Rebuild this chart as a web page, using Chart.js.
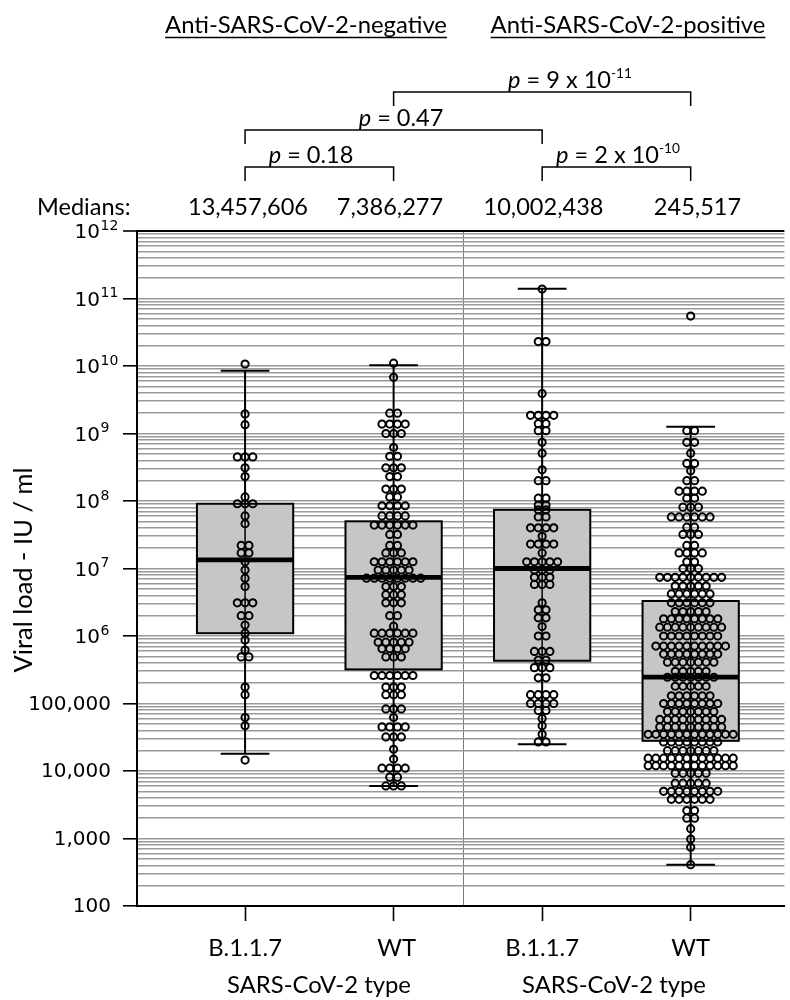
<!DOCTYPE html>
<html><head><meta charset="utf-8">
<script src="https://cdn.jsdelivr.net/npm/chart.js@4.4.1/dist/chart.umd.min.js"></script>
<style>html,body{margin:0;padding:0;background:#fff}#wrap{width:790px;height:1000px;position:relative}</style>
</head><body><div id="wrap"><canvas id="c"></canvas></div>
<script>
// ---------------- DATA ----------------
const categories = ['B.1.1.7', 'WT', 'B.1.1.7', 'WT'];
const groupTitles = ['Anti-SARS-CoV-2-negative', 'Anti-SARS-CoV-2-positive'];
const xAxisTitle = 'SARS-CoV-2 type';
const yAxisTitle = 'Viral load - IU / ml';
const medianHeader = 'Medians:';
const medianLabels = ['13,457,606', '7,386,277', '10,002,438', '245,517'];
const medians = [13457606, 7386277, 10002438, 245517];
const q1 = [1.1e6, 3.2e5, 4.3e5, 2.8e4];
const q3 = [9.1e7, 5.0e7, 7.4e7, 3.3e6];
const whiskerLow = [1.8e4, 6.0e3, 2.5e4, 4.1e2];
const whiskerHigh = [8.5e9, 1.03e10, 1.4e11, 1.26e9];
const pPairs = [[2, 4], [1, 3], [1, 2], [3, 4]];
const pLabels = ['9 x 10', '0.47', '0.18', '2 x 10'];
const pExponents = ['-11', '', '', '-10'];
const yTickValues = [1e2, 1e3, 1e4, 1e5, 1e6, 1e7, 1e8, 1e9, 1e10, 1e11, 1e12];
const yTickLabels = ['100', '1,000', '10,000', '100,000', '10^6', '10^7', '10^8', '10^9', '10^10', '10^11', '10^12'];

const b117NegValues = [1.07e10, 1.95e9, 1.35e9, 4.5e8, 4.5e8, 4.5e8, 3.1e8, 2.3e8, 1.15e8,
  9.1e7, 9.1e7, 9.1e7, 6.0e7, 4.6e7, 2.2e7, 2.2e7, 1.7e7, 1.7e7, 1.26e7, 9.5e6, 7.2e6, 5.4e6,
  3.1e6, 3.1e6, 3.1e6, 2.0e6, 2.0e6, 1.45e6, 1.1e6, 8.7e5, 6.2e5, 4.9e5, 4.9e5, 1.75e5, 1.35e5,
  6.2e4, 4.7e4, 1.45e4];

const wtNegValues = [1.1e10, 6.8e9, 2.0e9, 2.0e9, 1.38e9, 1.38e9, 1.38e9, 1.38e9, 1.0e9, 1.0e9, 1.0e9,
  6.2e8, 4.6e8, 4.6e8, 3.1e8, 3.1e8, 3.1e8, 2.3e8, 2.3e8, 1.5e8, 1.5e8, 1.5e8, 1.15e8, 1.15e8,
  8.5e7, 8.5e7, 8.5e7, 8.5e7, 6.0e7, 6.0e7, 6.0e7, 6.0e7, 4.4e7, 4.4e7, 4.4e7, 4.4e7, 4.4e7, 4.4e7,
  3.2e7, 3.2e7, 2.2e7, 2.2e7, 1.7e7, 1.7e7, 1.7e7, 1.26e7, 1.26e7, 1.26e7, 1.26e7, 1.26e7, 1.26e7,
  9.5e6, 9.5e6, 9.5e6, 9.5e6, 9.5e6, 7.2e6, 7.2e6, 7.2e6, 7.2e6, 7.2e6, 7.2e6, 7.2e6, 7.2e6,
  5.4e6, 5.4e6, 5.4e6, 4.1e6, 4.1e6, 4.1e6, 3.1e6, 3.1e6, 3.1e6, 2.0e6, 2.0e6, 1.4e6,
  1.1e6, 1.1e6, 1.1e6, 1.1e6, 1.1e6, 1.1e6, 8.1e5, 8.1e5, 8.1e5, 8.1e5, 8.1e5, 6.5e5, 6.5e5, 6.5e5, 6.5e5,
  4.9e5, 4.9e5, 4.9e5, 2.6e5, 2.6e5, 2.6e5, 2.6e5, 2.6e5, 2.6e5, 1.75e5, 1.75e5, 1.75e5,
  1.35e5, 1.35e5, 1.35e5, 8.3e4, 8.3e4, 8.3e4, 6.2e4, 4.5e4, 4.5e4, 4.5e4, 4.5e4, 3.2e4, 3.2e4, 3.2e4,
  2.1e4, 1.5e4, 1.1e4, 1.1e4, 1.1e4, 1.1e4, 8.1e3, 8.1e3, 6.0e3, 6.0e3, 6.0e3];

const b117PosValues = [1.38e11, 2.3e10, 2.3e10, 3.9e9, 1.86e9, 1.86e9, 1.86e9, 1.86e9, 1.4e9, 1.4e9,
  1.1e9, 1.1e9, 7.4e8, 5.1e8, 2.9e8, 2.0e8, 2.0e8, 1.1e8, 1.1e8, 8.7e7, 8.7e7, 7.4e7, 7.4e7,
  5.8e7, 5.8e7, 4.0e7, 4.0e7, 4.0e7, 4.0e7, 3.0e7, 2.3e7, 2.3e7, 2.3e7, 2.3e7, 1.7e7,
  1.26e7, 1.26e7, 1.26e7, 1.26e7, 1.26e7, 9.5e6, 9.5e6, 9.5e6, 7.4e6, 7.4e6, 7.4e6, 5.8e6, 5.8e6, 5.8e6,
  3.1e6, 2.45e6, 2.45e6, 1.86e6, 1.86e6, 1.38e6, 1.0e6, 1.0e6, 5.9e5, 5.9e5, 5.9e5, 4.4e5, 4.4e5,
  3.4e5, 3.4e5, 3.4e5, 2.4e5, 2.4e5, 1.35e5, 1.35e5, 1.35e5, 1.35e5, 1.0e5, 1.0e5, 1.0e5, 1.0e5,
  7.9e4, 7.9e4, 6.0e4, 4.7e4, 3.5e4, 2.7e4, 2.7e4];

const wtPosValues = [5.5e10, 1.1e9, 1.1e9, 7.4e8, 7.4e8, 5.1e8, 3.6e8, 3.6e8, 2.8e8, 2.0e8, 2.0e8,
  1.4e8, 1.4e8, 1.4e8, 1.4e8, 1.1e8, 1.1e8, 8.1e7, 8.1e7, 8.1e7,
  5.8e7, 5.8e7, 5.8e7, 5.8e7, 5.8e7, 5.8e7, 4.1e7, 4.1e7, 3.2e7, 3.2e7, 3.2e7, 2.2e7, 2.2e7,
  1.7e7, 1.7e7, 1.7e7, 1.7e7, 1.26e7, 1.26e7, 1.0e7, 1.0e7, 1.0e7,
  7.4e6, 7.4e6, 7.4e6, 7.4e6, 7.4e6, 7.4e6, 7.4e6, 7.4e6, 7.4e6,
  5.5e6, 5.5e6, 5.5e6, 5.5e6, 5.5e6, 4.2e6, 4.2e6, 4.2e6, 4.2e6, 4.2e6, 4.2e6,
  3.1e6, 3.1e6, 3.1e6, 3.1e6, 3.1e6, 3.1e6, 2.3e6, 2.3e6, 2.3e6, 2.3e6, 2.3e6,
  1.8e6, 1.8e6, 1.8e6, 1.8e6, 1.8e6, 1.8e6, 1.8e6, 1.8e6,
  1.35e6, 1.35e6, 1.35e6, 1.35e6, 1.35e6, 1.35e6, 1.35e6, 1.35e6, 1.35e6,
  1.0e6, 1.0e6, 1.0e6, 1.0e6, 1.0e6, 1.0e6, 1.0e6, 1.0e6,
  7.1e5, 7.1e5, 7.1e5, 7.1e5, 7.1e5, 7.1e5, 7.1e5, 7.1e5, 7.1e5, 7.1e5,
  5.4e5, 5.4e5, 5.4e5, 5.4e5, 5.4e5, 5.4e5, 5.4e5, 5.4e5,
  4.1e5, 4.1e5, 4.1e5, 4.1e5, 4.1e5, 4.1e5, 4.1e5, 3.0e5, 3.0e5, 3.0e5, 3.0e5, 3.0e5,
  2.45e5, 2.45e5, 2.45e5, 2.45e5, 2.45e5, 2.45e5, 2.45e5, 1.8e5, 1.8e5, 1.8e5, 1.8e5, 1.8e5,
  1.3e5, 1.3e5, 1.3e5, 1.3e5, 1.3e5, 1.3e5, 1.0e5, 1.0e5, 1.0e5, 1.0e5, 1.0e5, 1.0e5, 1.0e5, 1.0e5,
  7.6e4, 7.6e4, 7.6e4, 7.6e4, 7.6e4, 7.6e4, 7.6e4,
  5.8e4, 5.8e4, 5.8e4, 5.8e4, 5.8e4, 5.8e4, 5.8e4, 5.8e4, 5.8e4,
  4.5e4, 4.5e4, 4.5e4, 4.5e4, 4.5e4, 4.5e4, 4.5e4, 4.5e4, 4.5e4,
  3.5e4, 3.5e4, 3.5e4, 3.5e4, 3.5e4, 3.5e4, 3.5e4, 3.5e4, 3.5e4, 3.5e4, 3.5e4, 3.5e4,
  2.7e4, 2.7e4, 2.7e4, 2.7e4, 2.7e4, 2.7e4, 2.7e4, 2.7e4,
  2.0e4, 2.0e4, 2.0e4, 2.0e4, 2.0e4, 2.0e4, 2.0e4,
  1.55e4, 1.55e4, 1.55e4, 1.55e4, 1.55e4, 1.55e4, 1.55e4, 1.55e4, 1.55e4, 1.55e4, 1.55e4, 1.55e4,
  1.2e4, 1.2e4, 1.2e4, 1.2e4, 1.2e4, 1.2e4, 1.2e4, 1.2e4, 1.2e4, 1.2e4, 1.2e4, 1.2e4,
  9.3e3, 9.3e3, 9.3e3, 9.3e3, 9.3e3, 6.6e3, 6.6e3, 6.6e3, 6.6e3, 6.6e3,
  5.0e3, 5.0e3, 5.0e3, 5.0e3, 5.0e3, 5.0e3, 5.0e3, 5.0e3, 3.8e3, 3.8e3, 3.8e3, 3.8e3, 3.8e3, 3.8e3,
  2.6e3, 2.6e3, 2.0e3, 2.0e3, 1.4e3, 980, 740, 410];

const groupValues = [b117NegValues, wtNegValues, b117PosValues, wtPosValues];

// ---------------- LAYOUT / STYLE ----------------
const X_MIN = 0.2724, X_MAX = 4.631, DIVIDER_X = 2.472;
const BOX_HALF = 0.324, CAP_HALF = 0.164;
const ROW_SPACING_PX = 7.8;
const CAL = 'Lato, "Open Sans", sans-serif';
const VER = '"DejaVu Sans", Verdana, sans-serif';

function isPow10(v) { const l = Math.log10(v); return Math.abs(l - Math.round(l)) < 1e-9; }

function swarmPoints(values, center, pxPerUnit) {
  const pts = []; let i = 0;
  while (i < values.length) {
    let j = i; while (j < values.length && values[j] === values[i]) j++;
    const n = j - i;
    for (let k = 0; k < n; k++) pts.push({ x: center + (k - (n - 1) / 2) * ROW_SPACING_PX / pxPerUnit, y: values[i] });
    i = j;
  }
  return pts;
}

const boxPlugin = {
  id: 'boxes',
  beforeDatasetsDraw(chart) {
    const ctx = chart.ctx, xs = chart.scales.x, ys = chart.scales.y;
    ctx.save();
    for (let i = 0; i < categories.length; i++) {
      const c = xs.getPixelForValue(i + 1);
      const l = xs.getPixelForValue(i + 1 - BOX_HALF), r = xs.getPixelForValue(i + 1 + BOX_HALF);
      const cl = xs.getPixelForValue(i + 1 - CAP_HALF), cr = xs.getPixelForValue(i + 1 + CAP_HALF);
      const yq1 = ys.getPixelForValue(q1[i]), yq3 = ys.getPixelForValue(q3[i]);
      const ym = ys.getPixelForValue(medians[i]);
      const ylo = ys.getPixelForValue(whiskerLow[i]), yhi = ys.getPixelForValue(whiskerHigh[i]);
      ctx.strokeStyle = '#000'; ctx.lineWidth = 2;
      ctx.beginPath();
      ctx.moveTo(c, yq3); ctx.lineTo(c, yhi);
      ctx.moveTo(cl, yhi); ctx.lineTo(cr, yhi);
      ctx.moveTo(c, yq1); ctx.lineTo(c, ylo);
      ctx.moveTo(cl, ylo); ctx.lineTo(cr, ylo);
      ctx.stroke();
      ctx.fillStyle = '#c6c6c6';
      ctx.fillRect(l, yq3, r - l, yq1 - yq3);
      ctx.strokeRect(l, yq3, r - l, yq1 - yq3);
      ctx.beginPath(); ctx.moveTo(c, yq3); ctx.lineTo(c, yq1); ctx.lineWidth = 1.5; ctx.stroke();
      ctx.lineWidth = 4.8;
      ctx.beginPath(); ctx.moveTo(l, ym); ctx.lineTo(r, ym); ctx.stroke();
    }
    ctx.restore();
  }
};

function fitSize(ctx, text, width, style) {
  ctx.font = `${style || ''} 100px ${CAL}`;
  return 100 * width / ctx.measureText(text).width;
}

const textPlugin = {
  id: 'texts',
  afterDraw(chart) {
    const ctx = chart.ctx, xs = chart.scales.x, ys = chart.scales.y;
    ctx.save();
    ctx.fillStyle = '#000'; ctx.strokeStyle = '#000';
    ctx.textBaseline = 'alphabetic';
    // group titles
    const tSize = fitSize(ctx, groupTitles[0], 282);
    ctx.font = `${tSize}px ${CAL}`;
    ctx.textAlign = 'center';
    [306, 628].forEach((cx, k) => {
      const w = ctx.measureText(groupTitles[k]).width;
      ctx.fillText(groupTitles[k], cx, 33);
      ctx.lineWidth = 1.4;
      ctx.beginPath(); ctx.moveTo(cx - w / 2, 37.5); ctx.lineTo(cx + w / 2, 37.5); ctx.stroke();
    });
    // medians row
    const mSize = fitSize(ctx, medianLabels[0], 120);
    ctx.font = `${mSize}px ${CAL}`;
    ctx.textAlign = 'left';
    ctx.fillText(medianHeader, 37, 215);
    ctx.textAlign = 'center';
    [248, 390, 543.5, 697.5].forEach((cx, k) => ctx.fillText(medianLabels[k], cx, 215));
    // p-value brackets
    const lineYs = [92, 130, 167, 167];
    const textXs = [570, 401, 311, 618];
    for (let k = 0; k < pPairs.length; k++) {
      const xa = xs.getPixelForValue(pPairs[k][0]), xb = xs.getPixelForValue(pPairs[k][1]);
      const ly = lineYs[k];
      ctx.lineWidth = 1.5;
      ctx.beginPath();
      ctx.moveTo(xa, ly + 14); ctx.lineTo(xa, ly); ctx.lineTo(xb, ly); ctx.lineTo(xb, ly + 14);
      ctx.stroke();
      const fItal = `italic ${mSize}px ${CAL}`, fNorm = `${mSize}px ${CAL}`, fSup = `${mSize * 0.58}px ${CAL}`;
      ctx.font = fItal; const wp = ctx.measureText('p').width;
      ctx.font = fNorm; const rest = ' = ' + pLabels[k]; const wr = ctx.measureText(rest).width;
      ctx.font = fSup; const we = pExponents[k] ? ctx.measureText(pExponents[k]).width : 0;
      let x0 = textXs[k] - (wp + wr + we) / 2;
      const by = ly - 4;
      ctx.textAlign = 'left';
      ctx.font = fItal; ctx.fillText('p', x0, by);
      ctx.font = fNorm; ctx.fillText(rest, x0 + wp, by);
      if (pExponents[k]) { ctx.font = fSup; ctx.fillText(pExponents[k], x0 + wp + wr, by - mSize * 0.42); }
    }
    // y tick labels
    ctx.textBaseline = 'middle';
    for (let k = 0; k < yTickValues.length; k++) {
      const y = ys.getPixelForValue(yTickValues[k]);
      const lab = yTickLabels[k];
      if (lab.indexOf('^') >= 0) {
        const [base, ex] = lab.split('^');
        ctx.font = `20px ${VER}`; ctx.textAlign = 'right';
        ctx.fillText(base, 100, y + 2);
        ctx.font = `14px ${VER}`; ctx.textAlign = 'left';
        ctx.fillText(ex, 100.5, y - 5);
      } else {
        ctx.font = `20px ${VER}`; ctx.textAlign = 'right';
        ctx.fillText(lab, 111, y + 1);
      }
    }
    // y axis title
    const ySize = fitSize(ctx, yAxisTitle, 205);
    ctx.save();
    ctx.translate(24, 570); ctx.rotate(-Math.PI / 2);
    ctx.font = `${ySize}px ${CAL}`; ctx.textAlign = 'center'; ctx.textBaseline = 'middle';
    ctx.fillText(yAxisTitle, 0, 0);
    ctx.restore();
    // x labels
    const xSize = fitSize(ctx, xAxisTitle, 184);
    ctx.font = `${xSize}px ${CAL}`; ctx.textAlign = 'center'; ctx.textBaseline = 'alphabetic';
    categories.forEach((c, k) => ctx.fillText(c, xs.getPixelForValue(k + 1) + (k === 1 ? 3 : 0), 956));
    [319, 614].forEach(cx => ctx.fillText(xAxisTitle, cx, 993));
    ctx.restore();
  }
};

const chart = new Chart(document.getElementById('c'), {
  type: 'scatter',
  data: { datasets: groupValues.map(() => ({ data: [] })) },
  options: {
    responsive: true, maintainAspectRatio: false, animation: false, devicePixelRatio: 1,
    layout: { padding: { left: 123, top: 231, right: 0, bottom: 79 } },
    plugins: { legend: { display: false }, tooltip: { enabled: false } },
    elements: { point: { radius: 3.6, borderWidth: 2, borderColor: '#000', backgroundColor: 'rgba(0,0,0,0)', hoverRadius: 3.6 } },
    scales: {
      x: {
        type: 'linear', min: X_MIN, max: X_MAX,
        afterBuildTicks: s => { s.ticks = [1, 2, DIVIDER_X, 3, 4].map(v => ({ value: v })); },
        ticks: { display: false },
        grid: {
          color: c => (c.tick && c.tick.value === DIVIDER_X) ? '#7a7a7a' : 'rgba(0,0,0,0)',
          tickColor: c => (c.tick && c.tick.value === DIVIDER_X) ? 'rgba(0,0,0,0)' : '#000',
          lineWidth: 1, tickWidth: 1.6, tickLength: 15
        },
        border: { display: true, color: '#000', width: 2 }
      },
      y: {
        type: 'logarithmic', min: 100, max: 1e12,
        afterBuildTicks: s => {
          const t = [];
          for (let e = 2; e <= 11; e++) for (let m = 1; m <= 9; m++) t.push({ value: m * Math.pow(10, e) });
          t.push({ value: 1e12 });
          s.ticks = t;
        },
        ticks: { display: false },
        grid: {
          color: c => (c.tick && c.tick.value >= 1e12) ? '#000' : '#9a9a9a',
          lineWidth: c => (c.tick && c.tick.value >= 1e12) ? 2 : 1.6,
          tickColor: c => (c.tick && isPow10(c.tick.value)) ? '#000' : 'rgba(0,0,0,0)',
          tickWidth: 1.6, tickLength: 14
        },
        border: { display: true, color: '#000', width: 2 }
      }
    }
  },
  plugins: [boxPlugin, textPlugin]
});

const xs = chart.scales.x;
const pxPerUnit = xs.width / (X_MAX - X_MIN);
groupValues.forEach((vals, i) => { chart.data.datasets[i].data = swarmPoints(vals, i + 1, pxPerUnit); });
chart.update('none');
</script></body></html>
